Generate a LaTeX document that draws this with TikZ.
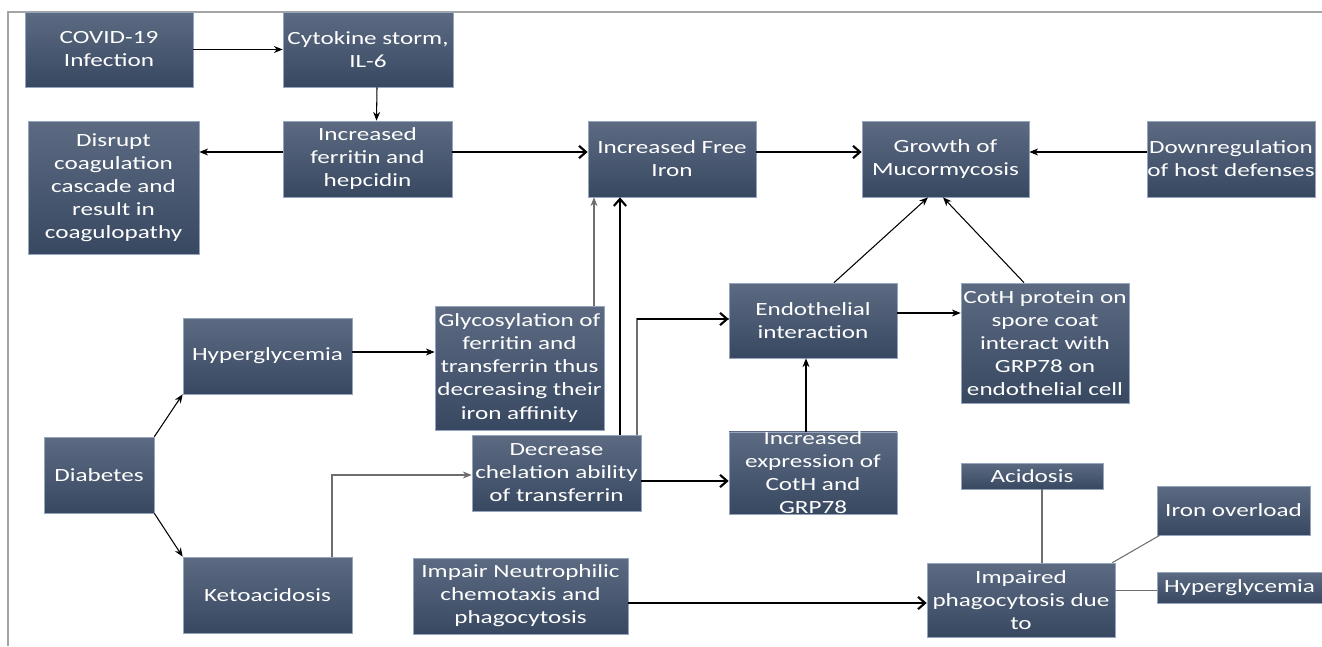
\documentclass[tikz,border=0pt]{standalone}
\usepackage{fontspec}
\usetikzlibrary{arrows.meta}
\newfontfamily\boxfont[FakeStretch=1.35]{Carlito}
\definecolor{boxtop}{RGB}{92,107,130}
\definecolor{boxbot}{RGB}{56,72,97}
\definecolor{boxedge}{RGB}{150,165,190}
\definecolor{linkgray}{RGB}{110,110,110}
\begin{document}
\begin{tikzpicture}[x=0.02cm,y=-0.02cm,
  box/.style={rectangle, top color=boxtop, bottom color=boxbot, draw=boxedge, line width=0.4pt,
    text=white, align=center, inner sep=0pt, font=\boxfont\fontsize{10.6}{13.1}\selectfont},
  thin arrow/.style={-{Stealth[length=5pt,width=4pt]}, line width=0.6pt},
  thick arrow/.style={-{Straight Barb[length=4pt,width=7pt]}, line width=1.2pt},
  gray link/.style={draw=linkgray, line width=0.6pt}]
\useasboundingbox (0,0) rectangle (1322,646);
\draw[color={rgb,255:red,165;green,165;blue,165},line width=0.8pt] (8,646) -- (8,12) -- (1322,12);
\node[box,minimum width=168*0.02cm,minimum height=75*0.02cm] (covid) at (109,49.5) {COVID-19\\Infection};
\node[box,minimum width=170*0.02cm,minimum height=75*0.02cm] (cyto) at (368,49.5) {Cytokine storm,\\IL-6};
\node[box,minimum width=169*0.02cm,minimum height=76*0.02cm] (ferr) at (367.5,159) {Increased\\ferritin and\\hepcidin};
\node[box,minimum width=171*0.02cm,minimum height=133*0.02cm] (disrupt) at (113.5,187.5) {Disrupt\\coagulation\\cascade and\\result in\\coagulopathy};
\node[box,minimum width=168*0.02cm,minimum height=76*0.02cm] (freeiron) at (672,159) {Increased Free\\Iron};
\node[box,minimum width=167*0.02cm,minimum height=76*0.02cm] (growth) at (945.5,159) {Growth of\\Mucormycosis};
\node[box,minimum width=168*0.02cm,minimum height=76*0.02cm] (downreg) at (1231,159) {Downregulation\\of host defenses};
\node[box,minimum width=169*0.02cm,minimum height=76*0.02cm] (hyper) at (267.5,356) {Hyperglycemia};
\node[box,minimum width=110*0.02cm,minimum height=76*0.02cm] (diab) at (99,475) {Diabetes};
\node[box,minimum width=169*0.02cm,minimum height=76*0.02cm] (keto) at (267.5,595) {Ketoacidosis};
\node[box,minimum width=169*0.02cm,minimum height=124*0.02cm] (glyco) at (519.5,368) {Glycosylation of\\ferritin and\\transferrin thus\\decreasing their\\iron affinity};
\node[box,minimum width=169*0.02cm,minimum height=76*0.02cm] (chel) at (556.5,473) {Decrease\\chelation ability\\of transferrin};
\node[box,minimum width=168*0.02cm,minimum height=75*0.02cm] (endo) at (813,320.5) {Endothelial\\interaction};
\node[box,minimum width=168*0.02cm,minimum height=76*0.02cm] (expr) at (813,473) {Increased\\expression of\\CotH and\\GRP78};
\node[box,minimum width=168*0.02cm,minimum height=120*0.02cm] (coth) at (1045,343) {CotH protein on\\spore coat\\interact with\\GRP78 on\\endothelial cell};
\node[box,minimum width=142*0.02cm,minimum height=26*0.02cm] (acid) at (1032,476) {Acidosis};
\node[box,minimum width=153*0.02cm,minimum height=49*0.02cm] (ironov) at (1233.5,510.5) {Iron overload};
\node[box,minimum width=165*0.02cm,minimum height=31*0.02cm] (hyper2) at (1239.5,587.5) {Hyperglycemia};
\node[box,minimum width=188*0.02cm,minimum height=74*0.02cm] (impaired) at (1021,600) {Impaired\\phagocytosis due\\to};
\node[box,minimum width=215*0.02cm,minimum height=76*0.02cm] (neutro) at (520.5,596) {Impair Neutrophilic\\chemotaxis and\\phagocytosis};
\draw[thin arrow] (covid.east) -- (cyto.west);
\draw[thin arrow] ([xshift=0.18cm]cyto.south) -- ([xshift=0.18cm]ferr.north);
\draw[thin arrow] ([yshift=0.14cm]ferr.west) -- ([yshift=0.14cm]ferr.west -| disrupt.east);
\draw[thick arrow] ([yshift=0.14cm]ferr.east) -- ([yshift=0.14cm]freeiron.west);
\draw[thick arrow] ([yshift=0.14cm]freeiron.east) -- ([yshift=0.14cm]growth.west);
\draw[thin arrow] ([yshift=0.14cm]downreg.west) -- ([yshift=0.14cm]growth.east);
\draw[thin arrow,gray link] ([xshift=1.49cm]glyco.north) -- ([xshift=1.49cm]glyco.north |- freeiron.south);
\draw[thick arrow] ([xshift=1.27cm]chel.north) -- ([xshift=1.27cm]chel.north |- freeiron.south);
\draw[gray link] ([xshift=1.61cm]chel.north) |- ([yshift=0.03cm]endo.west);
\draw[thick arrow] ([xshift=1.61cm,yshift=0.03cm]chel.north |- endo.west) -- ([yshift=0.03cm]endo.west);
\draw[thick arrow] ([yshift=-0.16cm]chel.east) -- ([yshift=-0.16cm]expr.west);
\draw[thin arrow] ([xshift=-0.14cm]expr.north) -- ([xshift=-0.14cm]endo.south);
\draw[thin arrow] ([xshift=0.42cm]endo.north) -- ([xshift=-0.35cm]growth.south);
\draw[thin arrow] ([xshift=-0.42cm]coth.north) -- ([xshift=-0.05cm]growth.south);
\draw[thin arrow] ([yshift=0.15cm]endo.east) -- ([yshift=0.15cm]endo.east -| coth.west);
\draw[thin arrow] ([yshift=0.08cm]hyper.east) -- ([yshift=0.08cm]hyper.east -| glyco.west);
\draw[thin arrow] (diab.north east) -- (hyper.south west);
\draw[thin arrow] (diab.south east) -- (keto.north west);
\draw[thin arrow,gray link] ([xshift=1.29cm]keto.north) |- ([yshift=-0.04cm]chel.west);
\draw[thick arrow] ([yshift=-0.14cm]neutro.east) -- ([yshift=-0.14cm]neutro.east -| impaired.west);
\draw[gray link] ([xshift=0.2cm]acid.south) -- ([xshift=0.2cm]acid.south |- impaired.north);
\draw[gray link] ([xshift=0.06cm]ironov.south west) -- ([xshift=-0.06cm]impaired.north east);
\draw[gray link] ([yshift=-0.06cm]hyper2.west) -- ([yshift=-0.06cm]hyper2.west -| impaired.east);
\end{tikzpicture}
\end{document}
